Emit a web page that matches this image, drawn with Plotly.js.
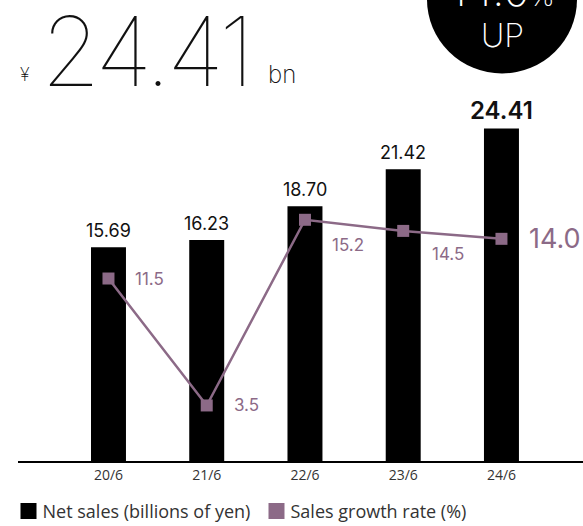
<!DOCTYPE html>
<html><head><meta charset="utf-8">
<script src="https://cdn.plot.ly/plotly-3.0.1.min.js"></script>
<style>body{margin:0;background:#fff}#c{width:583px;height:526px}</style>
</head><body><div id="c"></div>
<script>
const categories = ['20/6','21/6','22/6','23/6','24/6'];
const netSales = [15.69, 16.23, 18.70, 21.42, 24.41];
const netSalesLabels = ['15.69','16.23','18.70','21.42','24.41'];
const growthRate = [11.5, 3.5, 15.2, 14.5, 14.0];
const growthLabels = ['11.5','3.5','15.2','14.5','14.0'];
const seriesNames = ['Net sales (billions of yen)', 'Sales growth rate (%)'];
const headline = {value: '24.41', unit: 'bn', currency: '¥', growth: '14.0', growthWord: 'UP'};

const PURPLE = '#8c6a87';
const xIdx = categories.map((_, i) => i);
const last = categories.length - 1;
const T = 102, B = 466, H = B - T;   // plot area top / bottom in px
const px = y => (B - y) / H;          // pixel row -> paper y
const pxx = x => (x - 18) / 565;      // pixel column -> paper x

const traces = [
  {type:'bar', x:xIdx, y:netSales, name:seriesNames[0], marker:{color:'#000'}, width:0.356,
   hoverinfo:'skip'},
  {type:'scatter', mode:'lines+markers', x:xIdx, y:growthRate, yaxis:'y2', name:seriesNames[1],
   line:{color:PURPLE, width:2.5}, marker:{symbol:'square', size:12, color:PURPLE},
   showlegend:false, hoverinfo:'skip'},
  {type:'bar', x:[null], y:[null], name:seriesNames[1], marker:{color:PURPLE}, hoverinfo:'skip'}
];

const annotations = [];
netSales.forEach((v, i) => {
  const isLast = i === last;
  annotations.push({x:i, y:v, xref:'x', yref:'y', text:netSalesLabels[i], showarrow:false,
    yanchor:'bottom', yshift: isLast ? 2 : 4,
    font:{family:'Inter, Lato, sans-serif', size: isLast ? 24 : 18, color:'#111', weight: isLast ? 600 : 400}});
});
const offsets = [[25,0],[25,0],[25,-25],[27,-23],[26,0]];
growthRate.forEach((v, i) => {
  const isLast = i === last;
  annotations.push({x:i, y:v, xref:'x', yref:'y2', text:growthLabels[i], showarrow:false,
    xanchor:'left', xshift:offsets[i][0], yshift:offsets[i][1],
    font:{family:'Inter, Lato, sans-serif', size: isLast ? 27 : 17, color:PURPLE, weight: 400}});
});
// headline
annotations.push({xref:'paper', yref:'paper', x:pxx(39), y:px(50), xanchor:'left', yanchor:'middle',
  text:'<span style="letter-spacing:-4px">' + headline.value + '</span>', showarrow:false,
  font:{family:'Inter, sans-serif', size:96, color:'#111', weight:100}});
annotations.push({xref:'paper', yref:'paper', x:pxx(18), y:px(74), xanchor:'left', yanchor:'middle',
  text:headline.currency, showarrow:false, font:{family:'Inter, sans-serif', size:18, color:'#111', weight:200}});
annotations.push({xref:'paper', yref:'paper', x:pxx(266), y:px(74), xanchor:'left', yanchor:'middle',
  text:headline.unit, showarrow:false, font:{family:'Inter, sans-serif', size:24, color:'#111', weight:200}});
annotations.push({xref:'paper', yref:'paper', x:pxx(502), y:px(35), xanchor:'center', yanchor:'middle',
  text:headline.growthWord, showarrow:false, font:{family:'Inter, sans-serif', size:32, color:'#fff', weight:200}});
annotations.push({xref:'paper', yref:'paper', x:pxx(502), y:px(-12), xanchor:'center', yanchor:'middle',
  text:headline.growth + '<span style="font-size:28px">%</span>', showarrow:false, font:{family:'Inter, sans-serif', size:44, color:'#fff', weight:200}});

const layout = {
  width:583, height:526,
  margin:{l:18, r:0, t:T, b:526 - B},
  paper_bgcolor:'#fff', plot_bgcolor:'#fff',
  showlegend:true,
  legend:{orientation:'h', x:-0.02, xanchor:'left', y:-0.13, yanchor:'middle',
    font:{family:'Open Sans, sans-serif', size:18, color:'#333'}, itemwidth:30, traceorder:'normal'},
  xaxis:{range:[-0.921, 4.83], tickvals:xIdx, ticktext:categories, showgrid:false, zeroline:false,
    showline:true, linecolor:'#000', linewidth:2, ticks:'', fixedrange:true, ticklabelstandoff:0,
    tickfont:{family:'Open Sans, sans-serif', size:14, color:'#333'}},
  yaxis:{range:[0, H / 13.81], visible:false, showgrid:false, zeroline:false, fixedrange:true},
  yaxis2:{range:[0, H / 16.09], overlaying:'y', visible:false, showgrid:false, zeroline:false, fixedrange:true},
  shapes:[{type:'circle', xref:'paper', yref:'paper', x0:pxx(427), x1:pxx(577),
    y0:px(73), y1:px(-77), fillcolor:'#000', line:{width:0}, layer:'below'}],
  annotations: annotations,
  barmode:'overlay'
};

function tuneLegend(gd) {
  // enlarge legend swatches and tighten swatch-to-text spacing
  const wanted = [28.5, 276.5];
  const cyWanted = 511;
  gd.querySelectorAll('.legend .traces').forEach((it, i) => {
    const p = it.querySelector('.legendpoints path');
    if (!p) return;
    p.setAttribute('d', 'M8,8H-8V-8H8Z');
    const pm = p.getCTM(), im = it.getCTM();
    const cxLocal = pm.e - im.e;
    const txt = it.querySelector('.legendtext');
    if (txt) txt.setAttribute('x', cxLocal + 14);
    const m = /translate\(([-\d.]+),\s*([-\d.]+)\)/.exec(it.getAttribute('transform') || '');
    const tx = m ? parseFloat(m[1]) : 0, ty = m ? parseFloat(m[2]) : 0;
    const dx = (wanted[i] !== undefined ? wanted[i] : pm.e) - pm.e;
    const dy = cyWanted - pm.f;
    it.setAttribute('transform', 'translate(' + (tx + dx) + ',' + (ty + dy) + ')');
  });
}

Plotly.newPlot('c', traces, layout, {displayModeBar:false, staticPlot:true}).then(gd => tuneLegend(gd));
</script></body></html>
